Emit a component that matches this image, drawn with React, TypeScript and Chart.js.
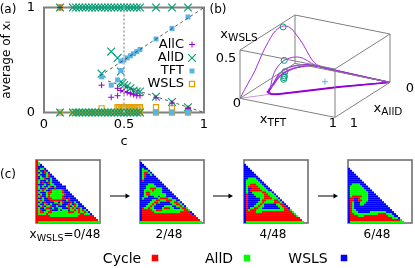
import React, { useEffect, useRef } from "react";
import { Chart, registerables } from "chart.js";
import { drawPoint } from "chart.js/helpers";

Chart.register(...registerables);

const FONT = "'DejaVu Sans'";
const PURPLE = "#9400d3";
const TEAL = "#009e73";
const SKY = "#56b4e9";
const ORANGE = "#e69f00";
const GREY = "#808080";

/* ---------- panel (a) ---------- */
const denseC = [0.18, 0.2, 0.22, 0.24, 0.26, 0.28, 0.3, 0.32, 0.34, 0.36, 0.38, 0.4, 0.42, 0.44, 0.46, 0.48, 0.5, 0.52, 0.54, 0.56, 0.58, 0.6];
const allCx = [0.36, 0.42, 0.46, 0.46, 0.48, 0.5, 0.52, 0.54, 0.56, 0.58, 0.6, 0.7, 0.8, 0.9];
const allCy = [0.26, 0.145, 0.16, 0.23, 0.21, 0.2, 0.19, 0.18, 0.17, 0.16, 0.16, 0.14, 0.09, 0.04];
const allDx = [0.36, 0.42, 0.46, 0.48, 0.48, 0.49, 0.5, 0.52, 0.54, 0.56, 0.58, 0.6, 0.7, 0.8, 0.9];
const allDy = [0.37, 0.58, 0.52, 0.39, 0.29, 0.28, 0.26, 0.25, 0.23, 0.21, 0.2, 0.2, 0.15, 0.1, 0.05];
const tftX = [0.36, 0.42, 0.46, 0.48, 0.48, 0.5, 0.52, 0.54, 0.56, 0.58, 0.6, 0.7, 0.8, 0.9, 0.7, 0.8, 0.9];
const tftY = [0.34, 0.26, 0.31, 0.4, 0.49, 0.5, 0.52, 0.54, 0.56, 0.58, 0.6, 0.7, 0.8, 0.91, 0, 0, 0];
const wslsX = [0.36, 0.46, 0.47, 0.48, 0.49, 0.5, 0.51, 0.52, 0.53, 0.54, 0.55, 0.56, 0.57, 0.58, 0.59, 0.6, 0.7, 0.8, 0.9];
const wslsY = [0.04, 0.05, 0.05, 0.05, 0.05, 0.05, 0.05, 0.05, 0.05, 0.05, 0.05, 0.05, 0.05, 0.05, 0.05, 0.05, 0.05, 0.04, 0.025];
const allDTopC = [0.1, ...denseC, 0.7, 0.8, 0.9];
const allDBottomC = [0.1, ...denseC];
const wslsBottomC = [0.1, ...denseC, 0.7, 0.8, 0.9];
const upperBranchC = [0.35, 1];
const upperBranchY = [0.35, 1];
const lowerBranchC = [0.4, 1];
const lowerBranchY = [0.3, 0];
const criticalC = [0.5, 0.5];
const criticalY = [0, 1];
const legendNames = ["AllC", "AllD", "TFT", "WSLS"];

/* ---------- panel (b): x_TFT and x_WSLS along the trajectory; x_AllD = 1 - x_TFT - x_WSLS ---------- */
const hump1T = [0, 0.006, 0.013, 0.007, 0.01, 0.024, 0.063, 0.115, 0.186, 0.267, 0.352, 0.41, 0.468, 0.575, 0.731, 1];
const hump1W = [0, 0.123, 0.238, 0.374, 0.489, 0.582, 0.617, 0.596, 0.522, 0.425, 0.312, 0.246, 0.209, 0.16, 0.098, 0];
const hump2T = [0.181, 0.156, 0.161, 0.188, 0.248, 0.311, 0.386, 0.456, 0.599, 0.808, 1];
const hump2W = [0.053, 0.18, 0.258, 0.306, 0.323, 0.303, 0.249, 0.211, 0.154, 0.07, 0];
const hump3T = [0.171, 0.184, 0.193, 0.227, 0.288, 0.367, 0.456, 0.652, 1];
const hump3W = [0.048, 0.104, 0.184, 0.228, 0.246, 0.241, 0.211, 0.132, 0];
const hump4T = [0.186, 0.199, 0.236, 0.306, 0.382, 0.47, 0.677, 1];
const hump4W = [0.07, 0.154, 0.204, 0.226, 0.23, 0.203, 0.123, 0];
const hump5T = [0.19, 0.206, 0.247, 0.316, 0.406, 0.521, 0.729, 1];
const hump5W = [0.089, 0.165, 0.205, 0.23, 0.227, 0.185, 0.104, 0];
const returnT = [1, 0.654, 0.433, 0.245, 0.197, 0.171, 0.181];
const returnW = [0, 0.005, 0.001, 0, 0.007, 0.031, 0.053];
const returnBT = [1, 0.654, 0.433, 0.25, 0.2, 0.178, 0.186];
const returnBW = [0, 0.01, 0.006, 0.004, 0.012, 0.04, 0.07];
const leadT = [0, 0.2];
const leadW = [0, 0.008];
const circleT = [0.064, 0.184, 0.227, 0.237, 0.24, 0.243];
const circleW = [0.609, 0.303, 0.199, 0.161, 0.146, 0.131];
const plusT = [0.541];
const plusW = [0.069];
const boxWslsMax = 0.6;

/* ---------- panel (c): run-length rows, R cycle, G AllD, B WSLS; first value is the first filled row ---------- */
const map0 = [
  "R1", "R1G1", "R1G1B1", "R1B3", "R1B1G2B1", "R1G1B2R1B1", "R1B1G1B1R1G1B1", "R1G1B3G1R1B1",
  "R1B1G1B2G1R1B2", "R1B1G2R1B2G1B2", "R1G1B3G1B1G1B3", "R1G1B1R1B2R1G1B4", "R1B3G1B2G2B4", "R1G1B1G1B2G1R1B1G1B5",
  "R1G1B2R1G1B3R1B5", "R1B1G1R1G1B2R1G5R1B2", "R1G1B3G1R2G5R1B3", "R1B1G1B2G1R1G7R1B3", "R1G1R1B2G1R1G6R1B5",
  "R1B2G1B2R2G5R2B1R1B3", "R1G1R1G1B3R6B2G1R1B4", "R1B1G1B1R1B4G2B1G1R1B3R1B1G1B2",
  "R1G1B2G1R1B1G1B3R1G1B3R1G1B1R1G1B2", "R1B1G1R1B1G2R1B2G1B4G1R1B1G1R1G1B2B1",
  "R1G1B2G1R2B1G1B2G2B3R1G1R1G1B1R1G1B2", "R1G1R1B2G2R1B3G1B1G3B1G2R1G1R1G1R1G1B1",
  "R1G1R2G2R2G8R3G2R1G2R1G1B1", "R1G4R1G16R2G3B1", "R7G14R8", "R30", "R31", "R1G31",
];
const map2 = [
  "B1", "B2", "B3", "B1G1B2", "B1G3B1", "B1G1R2G1B1", "B1G1R1B2G1B1", "B1G1R1B5", "B1G1B7", "B1R1B8", "B11",
  "B4G3B5", "B3G5B5", "B3G2R3G3B3", "B2G4R1G4B4", "B2G1R2G6B5", "B2G1R2G8B4", "B2G2B3G2B1G3B5", "B1G1B7G1R4G2B3",
  "B6G2R2G3R3G2B2", "B5G2R2G1B5G2R2G1B1", "B4G2R1G1B8G2R2G1B1", "B3G2R1G1B5G4B2G2R1G1B1",
  "B1R1G2R1G2B4G1R3G2B3G1R2G1", "B1R5G2R3G8G3R2G1", "B1R6G13R5B1", "B1R25B1", "B1R27", "B1R28", "B1R29", "G31",
];
const map4 = [
  "B1", "B2", "B3", "B4", "B5", "B6", "B7", "B2G4B2", "B1G6B2", "B1G7B2", "B1G2R3G3B2", "B1G1R5G3B2",
  "B1G1B2R4G3B2", "B1G1B1R6G3B2", "B1G1B2G5R2G3B1", "B1R1B3G5R2G3B1", "B1R1B4G4R3G3B1", "B1R1B6G2R4G3B1",
  "B1R1B6G1R2G4R2G1B1", "B1R1B5G2R1G5R3G1B1", "B1R1B4G2R1G1B6G2R2B1", "B1R1B3G2R1G2B7G2R2B1",
  "B1R1B1G2R2G2B9G2R2B1", "B1R1G1R3G14R3G1", "B1R5G3R15G1", "B1R24G1", "B1R25G1", "B1R27", "B1R28", "B1G29",
];
const map6 = [
  "B1", "B2", "B3", "B4", "B5", "B6", "B7", "B8", "B2G4B3", "B1G6B3", "B1G7B3", "B1G8B3", "B1G9B3", "B1G9B4",
  "B1G1R5G3B5", "B1R2B2R1G4B6", "B1R2B2R2G3B7", "B1R1G1B3G3B9", "B1R1G1B3G2B11", "B1R1G1B17", "B1R1G1B18",
  "B1R1G2B18", "B1R1G3B6G8B4", "B1R2G12R4G3B2", "B1R4G3R12G3B2", "B1R21G3B1", "B1R25G1", "B1G27",
];
const mapFirstRow = [0, 1, 2, 4];
const mapColors: Record<string, string> = { R: "#ff0000", G: "#00ff00", B: "#0000ff" };
const GRID = 32;

/* ---------- arrows and the legend of (c) ---------- */
const arrowStartX = [110, 213, 318];
const arrowEndX = [127, 230, 335];
const arrowY = 196;
const legendSquareX = [155, 247, 344];
const legendSquareY = 258;

function pts(xs: number[], ys: number[]) {
  return xs.map((x, i) => ({ x, y: ys[i] }));
}
function flat(xs: number[], y: number) {
  return xs.map((x) => ({ x, y }));
}

const framePlugin = (color: string, width: number) => ({
  id: "frame",
  beforeDatasetsDraw(chart: any) {
    const { ctx, chartArea: a } = chart;
    ctx.save();
    ctx.strokeStyle = color;
    ctx.lineWidth = width;
    ctx.strokeRect(a.left, a.top, a.right - a.left, a.bottom - a.top);
    ctx.restore();
  },
});

const legendMarkers = [
  { pointStyle: "cross", radius: 3, borderWidth: 1, borderColor: PURPLE, backgroundColor: PURPLE },
  { pointStyle: "crossRot", radius: 5.5, borderWidth: 1.1, borderColor: TEAL, backgroundColor: TEAL },
  { pointStyle: "rect", radius: 3.5, borderWidth: 0, borderColor: SKY, backgroundColor: SKY },
  { pointStyle: "rect", radius: 3.6, borderWidth: 1.2, borderColor: ORANGE, backgroundColor: "transparent" },
];

const legendPlugin = {
  id: "legendA",
  afterDatasetsDraw(chart: any) {
    const { ctx } = chart;
    const rowY = [44.5, 58, 71, 84];
    ctx.save();
    legendNames.forEach((name, i) => {
      ctx.font = `13px ${FONT}`;
      ctx.fillStyle = "#000";
      ctx.textAlign = "right";
      ctx.textBaseline = "middle";
      ctx.fillText(name, 184, rowY[i]);
      const m = legendMarkers[i];
      ctx.strokeStyle = m.borderColor;
      ctx.fillStyle = m.backgroundColor;
      ctx.lineWidth = m.borderWidth;
      drawPoint(ctx, { pointStyle: m.pointStyle, radius: m.radius, borderWidth: m.borderWidth, rotation: 0 } as any, 192, rowY[i]);
    });
    ctx.restore();
  },
};

function marker(i: number, data: any[]) {
  const m = legendMarkers[i];
  return {
    data,
    pointStyle: m.pointStyle,
    pointRadius: m.radius,
    pointBorderWidth: m.borderWidth,
    pointBorderColor: m.borderColor,
    pointBackgroundColor: m.backgroundColor,
    showLine: false,
    clip: false,
  };
}

function straight(data: any[], color: string, width: number, dash: number[] = []) {
  return { data, showLine: true, borderColor: color, borderWidth: width, borderDash: dash, pointRadius: 0, clip: false };
}

const baseOptions: any = {
  responsive: false,
  animation: false,
  events: [],
  layout: { autoPadding: false },
  plugins: { legend: { display: false }, tooltip: { enabled: false } },
};

function configA(): any {
  const tickFont = { family: FONT, size: 13 };
  return {
    type: "scatter",
    data: {
      datasets: [
        straight(pts(criticalC, criticalY), "#b8b8b8", 2, [2, 2]),
        straight(pts(upperBranchC, upperBranchY), "#333", 0.8, [3, 3]),
        straight(pts(lowerBranchC, lowerBranchY), "#333", 0.8, [3, 3]),
        marker(2, pts(tftX, tftY)),
        marker(0, [...pts(allCx, allCy), { x: 0.1, y: 1 }]),
        marker(1, [...pts(allDx, allDy), ...flat(allDTopC, 1), ...flat(allDBottomC, 0)]),
        marker(3, [...pts(wslsX, wslsY), ...flat(wslsBottomC, 0), { x: 0.1, y: 1 }]),
      ],
    },
    options: {
      ...baseOptions,
      layout: { autoPadding: false, padding: { top: 7.5, right: 6, bottom: 0, left: 0 } },
      scales: {
        x: {
          type: "linear",
          min: 0,
          max: 1,
          grid: { display: false, drawTicks: false },
          border: { display: false },
          ticks: { stepSize: 0.5, font: tickFont, color: "#000", padding: 4, maxRotation: 0, callback: (v: number) => String(v) },
          title: { display: true, text: "c", font: tickFont, color: "#000", padding: { top: 0, bottom: 1 } },
          afterFit: (s: any) => { s.height = 37.5; s.paddingLeft = 0; s.paddingRight = 0; },
        },
        y: {
          type: "linear",
          min: 0,
          max: 1,
          grid: { display: false, drawTicks: false },
          border: { display: false },
          ticks: { stepSize: 1, font: tickFont, color: "#000", padding: 9, callback: (v: number) => String(v) },
          title: { display: true, text: "average of xᵢ", font: { family: FONT, size: 12 }, color: "#000", padding: { top: 0, bottom: 0 } },
          afterFit: (s: any) => { s.width = 44; s.paddingTop = 0; s.paddingBottom = 0; },
        },
      },
    },
    plugins: [framePlugin(GREY, 2), legendPlugin],
  };
}

function project(t: number, d: number, w: number) {
  return { x: 105 + 285 * t + 165 * (1 - d), y: 295 + 57 * t - 105 * (1 - d) - (145 / boxWslsMax) * w };
}
function trajectory(ts: number[], ws: number[]) {
  return ts.map((t, i) => project(t, 1 - t - ws[i], ws[i]));
}

function configB(): any {
  const corner = (t: number, d: number, w: number) => project(t, d, w);
  const zTop = boxWslsMax;
  const edge = (a: number[], b: number[]) =>
    straight([corner(a[0], a[1], a[2]), corner(b[0], b[1], b[2])], GREY, 1);
  const A = [0, 1], B = [1, 1], C = [1, 0], D = [0, 0];
  const floor = [[A, B], [B, C], [C, D], [D, A]];
  const wire: any[] = [];
  floor.forEach(([p, q]) => {
    wire.push(edge([...p, 0], [...q, 0]));
    wire.push(edge([...p, zTop], [...q, zTop]));
    wire.push(edge([...p, 0], [...p, zTop]));
  });
  const curve = (ts: number[], ws: number[], width: number, color = "#a030dc") => ({
    data: trajectory(ts, ws),
    showLine: true,
    borderColor: color,
    borderWidth: width,
    tension: 0.35,
    pointRadius: 0,
    clip: false,
  });
  return {
    type: "scatter",
    data: {
      datasets: [
        ...wire,
        straight(trajectory(leadT, leadW), "#c890ea", 1),
        curve(hump1T, hump1W, 1),
        curve(hump2T, hump2W, 1),
        curve(hump3T, hump3W, 1.2),
        curve(hump4T, hump4W, 1.2),
        curve(hump5T, hump5W, 1.2),
        straight(trajectory(returnT, returnW), PURPLE, 1.5),
        straight(trajectory(returnBT, returnBW), PURPLE, 1.2),
        {
          data: trajectory(circleT, circleW),
          showLine: false,
          pointStyle: "circle",
          pointRadius: 3,
          pointBorderWidth: 1,
          pointBorderColor: TEAL,
          pointBackgroundColor: "transparent",
        },
        {
          data: trajectory(plusT, plusW),
          showLine: false,
          pointStyle: "cross",
          pointRadius: 3,
          pointBorderWidth: 1,
          pointBorderColor: SKY,
        },
      ],
    },
    options: {
      ...baseOptions,
      scales: {
        x: { type: "linear", display: false, min: 0, max: 630 },
        y: { type: "linear", display: false, min: 0, max: 450, reverse: true },
      },
    },
  };
}

function decode(rows: string[], firstRow: number) {
  const cells: Record<string, { x: number; y: number }[]> = { R: [], G: [], B: [] };
  rows.forEach((row, r) => {
    let col = 0;
    for (const [, k, n] of row.matchAll(/([RGB])(\d+)/g)) {
      for (let i = 0; i < Number(n); i++) {
        cells[k].push({ x: col + 0.5, y: r + firstRow + 0.5 });
        col++;
      }
    }
  });
  return cells;
}

function configMap(rows: string[], firstRow: number): any {
  const cells = decode(rows, firstRow);
  return {
    type: "scatter",
    data: {
      datasets: Object.keys(cells).map((k) => ({
        data: cells[k],
        pointStyle: "rect",
        pointRadius: 1.5,
        pointBorderWidth: 0,
        pointBackgroundColor: mapColors[k],
        showLine: false,
      })),
    },
    options: {
      ...baseOptions,
      layout: { autoPadding: false, padding: 1 },
      scales: {
        x: { type: "linear", display: false, min: 0, max: GRID },
        y: { type: "linear", display: false, min: 0, max: GRID, reverse: true },
      },
    },
    plugins: [framePlugin("#707070", 1.6)],
  };
}

function configOverlay(): any {
  const arrows = arrowStartX.map((x0, i) => ({
    data: [{ x: x0, y: arrowY }, { x: arrowEndX[i], y: arrowY }],
    showLine: true,
    borderColor: "#000",
    borderWidth: 1,
    pointRadius: [0, 3],
    pointStyle: "triangle",
    pointRotation: 90,
    pointBackgroundColor: "#000",
    pointBorderWidth: 0,
  }));
  const squares = legendSquareX.map((x, i) => ({
    data: [{ x, y: legendSquareY }],
    showLine: false,
    pointStyle: "rect",
    pointRadius: 4.6,
    pointBorderWidth: 0,
    pointBackgroundColor: Object.values(mapColors)[i],
  }));
  return {
    type: "scatter",
    data: { datasets: [...arrows, ...squares] },
    options: {
      ...baseOptions,
      scales: {
        x: { type: "linear", display: false, min: 0, max: 415 },
        y: { type: "linear", display: false, min: 0, max: 268, reverse: true },
      },
    },
  };
}

function ChartBox(props: { make: () => any; left: number; top: number; width: number; height: number }) {
  const ref = useRef<HTMLCanvasElement | null>(null);
  useEffect(() => {
    const chart = new Chart(ref.current as HTMLCanvasElement, props.make());
    return () => chart.destroy();
  }, []);
  return (
    <canvas
      ref={ref}
      width={props.width}
      height={props.height}
      style={{ position: "absolute", left: props.left, top: props.top, width: props.width, height: props.height }}
    />
  );
}

function Label(props: { cx: number; cy: number; size?: number; children: React.ReactNode }) {
  return (
    <span
      style={{
        position: "absolute",
        left: props.cx,
        top: props.cy,
        transform: "translate(-50%, -50%)",
        font: `${props.size ?? 13}px ${FONT}`,
        lineHeight: 1,
        whiteSpace: "nowrap",
        color: "#000",
      }}
    >
      {props.children}
    </span>
  );
}

function Sub(props: { size?: number; children: React.ReactNode }) {
  return <span style={{ fontSize: props.size ?? 10.5, position: "relative", top: 3 }}>{props.children}</span>;
}

export default function App() {
  const maps = [map0, map2, map4, map6];
  const mapLeft = [36, 140, 244, 348];
  return (
    <div style={{ position: "absolute", left: 0, top: 0, width: 415, height: 268, background: "#fff", overflow: "hidden" }}>
      <ChartBox make={configA} left={0} top={0} width={210} height={150} />
      <ChartBox make={configB} left={205} top={0} width={210} height={150} />
      {maps.map((rows, i) => (
        <ChartBox key={i} make={() => configMap(rows, mapFirstRow[i])} left={mapLeft[i] - 1} top={159} width={66} height={65} />
      ))}
      <ChartBox make={configOverlay} left={0} top={0} width={415} height={268} />
      <Label cx={8} cy={9} size={12}>(a)</Label>
      <Label cx={218} cy={9} size={12}>(b)</Label>
      <Label cx={8} cy={174} size={12}>(c)</Label>
      <Label cx={239} cy={33}>x<Sub>WSLS</Sub></Label>
      <Label cx={226} cy={57}>0.5</Label>
      <Label cx={237} cy={102}>0</Label>
      <Label cx={273} cy={118}>x<Sub>TFT</Sub></Label>
      <Label cx={333} cy={122}>1</Label>
      <Label cx={354} cy={122}>1</Label>
      <Label cx={388} cy={107}>x<Sub>AllD</Sub></Label>
      <Label cx={410} cy={87}>0</Label>
      <Label cx={65} cy={234} size={12}>x<Sub size={9.5}>WSLS</Sub>=0/48</Label>
      <Label cx={169} cy={234} size={12}>2/48</Label>
      <Label cx={273} cy={234} size={12}>4/48</Label>
      <Label cx={377} cy={234} size={12}>6/48</Label>
      <Label cx={122} cy={258} size={14}>Cycle</Label>
      <Label cx={219} cy={258} size={14}>AllD</Label>
      <Label cx={308} cy={258} size={14}>WSLS</Label>
    </div>
  );
}
